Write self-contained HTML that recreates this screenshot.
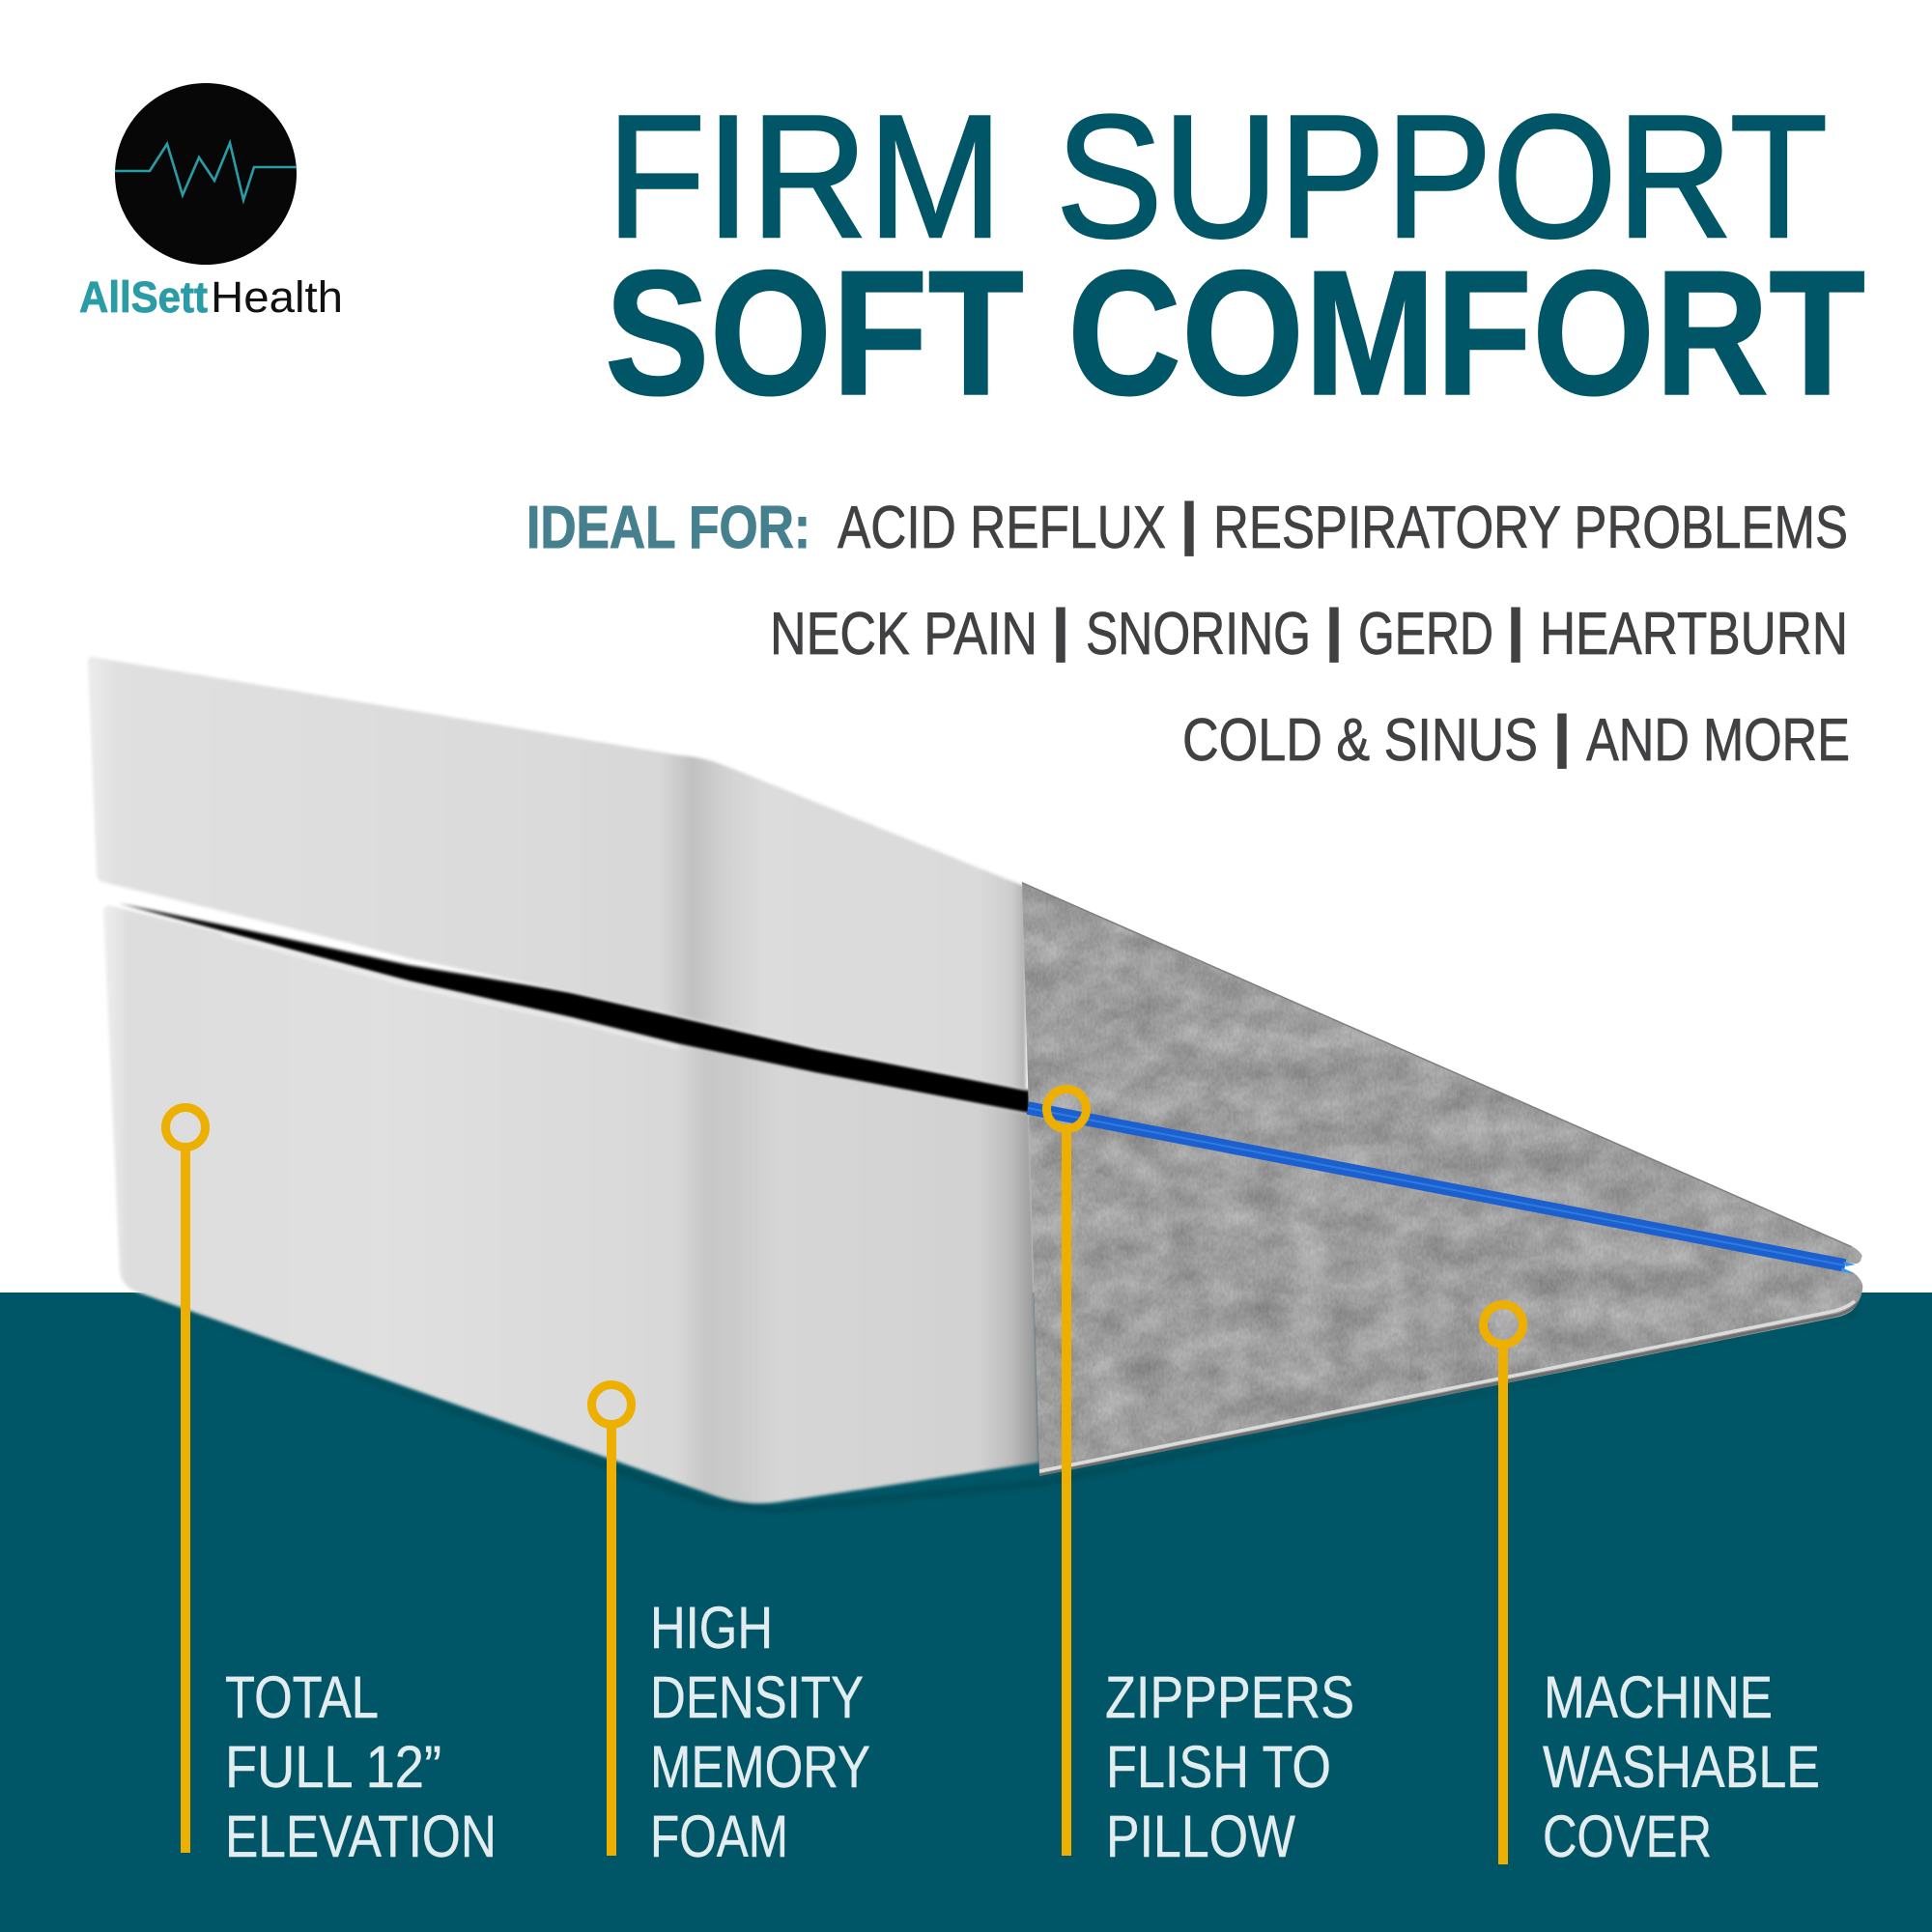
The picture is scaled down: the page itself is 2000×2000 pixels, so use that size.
<!DOCTYPE html>
<html><head><meta charset="utf-8"><style>html,body{margin:0;padding:0;background:#fff}svg{display:block}text{font-family:"Liberation Sans",sans-serif}</style></head>
<body>
<svg xmlns="http://www.w3.org/2000/svg" width="2000" height="2000" viewBox="0 0 2000 2000">
<defs>
<linearGradient id="fu" gradientUnits="userSpaceOnUse" x1="91" y1="0" x2="1062" y2="0">
<stop offset="0" stop-color="#ececec"/><stop offset=".03" stop-color="#e0e0e0"/><stop offset=".3" stop-color="#dddddd"/><stop offset=".61" stop-color="#d8d8d8"/><stop offset=".645" stop-color="#c0c0c0"/><stop offset=".675" stop-color="#d0d0d0"/><stop offset=".72" stop-color="#dcdcdc"/><stop offset=".95" stop-color="#dadada"/><stop offset=".985" stop-color="#cdcdcd"/><stop offset="1" stop-color="#b0b0b0"/>
</linearGradient>
<linearGradient id="fl" gradientUnits="userSpaceOnUse" x1="105" y1="0" x2="1080" y2="0">
<stop offset="0" stop-color="#f0f0f0"/><stop offset=".03" stop-color="#dddddd"/><stop offset=".3" stop-color="#e0e0e0"/><stop offset=".61" stop-color="#d8d8d8"/><stop offset=".64" stop-color="#c8c8c8"/><stop offset=".67" stop-color="#cacaca"/><stop offset=".72" stop-color="#d6d6d6"/><stop offset=".93" stop-color="#d2d2d2"/><stop offset=".965" stop-color="#bdbdbd"/><stop offset="1" stop-color="#8d8d8d"/>
</linearGradient>
<filter id="tex" x="0" y="0" width="100%" height="100%" color-interpolation-filters="sRGB">
<feTurbulence type="fractalNoise" baseFrequency="0.024 0.032" numOctaves="6" seed="11" result="a"/>
<feColorMatrix in="a" type="matrix" values="0.24 0 0 0 0.5  0.24 0 0 0 0.5  0.24 0 0 0 0.5  0 0 0 0 1" result="c1"/>
<feTurbulence type="fractalNoise" baseFrequency="0.35 0.2" numOctaves="2" seed="4" result="b"/>
<feColorMatrix in="b" type="matrix" values="1 0 0 0 0  1 0 0 0 0  1 0 0 0 0  0 0 0 0 1" result="c2"/>
<feComposite in="c1" in2="c2" operator="arithmetic" k1="0" k2="1" k3=".1" k4="-.05"/>
</filter>
<filter id="b1"><feGaussianBlur stdDeviation="1.5"/></filter>
<filter id="b3"><feGaussianBlur stdDeviation="3"/></filter>
<clipPath id="wc"><path d="M1058 913L1917 1290Q1930 1298 1927 1302Q1926 1308 1921 1308L1910 1307L1908 1313L1918 1317Q1930 1326 1928 1335Q1926 1348 1917 1357Q1910 1362 1900 1364L1076 1528Z"/></clipPath>
</defs>
<rect width="2000" height="2000" fill="#fff"/>
<rect y="1338" width="2000" height="662" fill="#005666"/>

<!-- logo -->
<circle cx="213" cy="180" r="94" fill="#070707"/>
<polyline points="119,177 155,177 173,149 189,202 206,163 222,187 238,148 252,207 263,173 307,173" fill="none" stroke="#2a9ca6" stroke-width="2.6"/>
<text x="82" y="323" font-size="45" font-weight="bold" fill="#2a9ca6" stroke="#2a9ca6" stroke-width=".8" textLength="133" lengthAdjust="spacingAndGlyphs">AllSett</text>
<text x="218" y="323" font-size="45" fill="#111" textLength="137" lengthAdjust="spacingAndGlyphs">Health</text>

<!-- headings -->
<g font-size="181" fill="#005666" stroke="#005666" stroke-width="2.5">
<text x="628" y="245" textLength="410" lengthAdjust="spacingAndGlyphs">FIRM</text>
<text x="1093" y="245" textLength="799" lengthAdjust="spacingAndGlyphs">SUPPORT</text>
</g>
<g font-size="184" font-weight="bold" fill="#005666" stroke="#005666" stroke-width="1.5">
<text x="626" y="408" textLength="434" lengthAdjust="spacingAndGlyphs">SOFT</text>
<text x="1105" y="408" textLength="826" lengthAdjust="spacingAndGlyphs">COMFORT</text>
</g>

<text x="545" y="567" font-size="62" font-weight="bold" fill="#46808f" stroke="#46808f" stroke-width="1" textLength="294" lengthAdjust="spacingAndGlyphs">IDEAL FOR:</text>
<g font-size="62" fill="#414042" stroke="#414042" stroke-width=".7">
<text x="867" y="567" textLength="340" lengthAdjust="spacingAndGlyphs">ACID REFLUX</text>
<text x="1256" y="567" textLength="657" lengthAdjust="spacingAndGlyphs">RESPIRATORY PROBLEMS</text>
<text x="797" y="677" textLength="277" lengthAdjust="spacingAndGlyphs">NECK PAIN</text>
<text x="1124" y="677" textLength="233" lengthAdjust="spacingAndGlyphs">SNORING</text>
<text x="1406" y="677" textLength="140" lengthAdjust="spacingAndGlyphs">GERD</text>
<text x="1594" y="677" textLength="319" lengthAdjust="spacingAndGlyphs">HEARTBURN</text>
<text x="1224" y="787" textLength="368" lengthAdjust="spacingAndGlyphs">COLD &amp; SINUS</text>
<text x="1642" y="787" textLength="273" lengthAdjust="spacingAndGlyphs">AND MORE</text>
</g>
<g font-size="58" font-weight="bold" fill="#414042" stroke="#414042" stroke-width="2" text-anchor="middle">
<text x="1231" y="562">|</text>
<text x="1098" y="672">|</text><text x="1381" y="672">|</text><text x="1569" y="672">|</text>
<text x="1617" y="782">|</text>
</g>

<!-- shadow under foam -->
<path d="M143 1342L736 1552L806 1560L1076 1532L1900 1368L1925 1355L1925 1362L1080 1538L800 1566L730 1558Z" fill="#003a46" opacity=".45" filter="url(#b3)"/>

<!-- black gap -->
<path d="M123 935L257 963L423 999L590 1027L703 1053L846 1086L1066 1129L1066 1153L846 1112L703 1082L590 1054L423 1016L223 962Z" fill="#000" filter="url(#b1)"/>

<!-- upper foam -->
<path d="M95 680Q91 680 91 686L100 905Q100 911 106 913L290 958L423 992L590 1027L703 1052L846 1085L1062 1128L1062 918L749 792Q725 783 704 782Z" fill="url(#fu)" filter="url(#b1)"/>
<!-- lower foam -->
<path d="M107 944Q107 936 116 938L223 964L423 1016L590 1053L703 1081L846 1111L1066 1153L1076 1514L806 1555Q770 1560 736 1547L143 1338Q126 1332 124 1317Z" fill="url(#fl)" filter="url(#b1)"/>
<path d="M230 968L423 1020L590 1057L703 1085" stroke="#fff" stroke-width="2.5" fill="none" opacity=".6" filter="url(#b1)"/>

<!-- wedge cover -->
<g clip-path="url(#wc)">
<rect x="1040" y="900" width="900" height="640" filter="url(#tex)"/>
<path d="M1058 913L1917 1290" stroke="#808080" stroke-width="3" fill="none"/>
<path d="M1076 1527L1898 1362Q1915 1359 1926 1346" stroke="#6e6e6e" stroke-width="3" fill="none"/>
<path d="M1076 1523L1895 1358Q1910 1355 1920 1347" stroke="#dcdcdc" stroke-width="3.5" fill="none"/>
</g>
<path d="M1064 1147L1910 1310" stroke="#1c5fcf" stroke-width="13.5" fill="none"/>
<path d="M1064 1147L1910 1310" stroke="#2f7ce0" stroke-width="2" fill="none"/>
<path d="M1908 1306L1921 1309L1911 1311Z" fill="#3399ee"/>
<path d="M1907 1312L1919 1319L1906 1316Z" fill="#3399ee"/>

<!-- callouts -->
<g fill="none" stroke="#eeb000">
<circle cx="192" cy="1167" r="20.5" stroke-width="9"/>
<circle cx="633" cy="1454" r="20.5" stroke-width="9"/>
<circle cx="1104" cy="1148" r="20.5" stroke-width="9"/>
<circle cx="1556" cy="1371" r="20.5" stroke-width="9"/>
<path d="M192 1188V1918M633 1475V1921M1104 1169V1921M1556 1392V1930" stroke-width="10"/>
</g>

<g font-size="61" fill="#e3ecee" stroke="#e3ecee" stroke-width=".4">
<text x="233" y="1778" textLength="159" lengthAdjust="spacingAndGlyphs">TOTAL</text>
<text x="233" y="1850" textLength="224" lengthAdjust="spacingAndGlyphs">FULL 12”</text>
<text x="233" y="1922" textLength="281" lengthAdjust="spacingAndGlyphs">ELEVATION</text>
<text x="673" y="1706" textLength="127" lengthAdjust="spacingAndGlyphs">HIGH</text>
<text x="673" y="1778" textLength="221" lengthAdjust="spacingAndGlyphs">DENSITY</text>
<text x="673" y="1850" textLength="228" lengthAdjust="spacingAndGlyphs">MEMORY</text>
<text x="673" y="1922" textLength="143" lengthAdjust="spacingAndGlyphs">FOAM</text>
<text x="1144" y="1778" textLength="258" lengthAdjust="spacingAndGlyphs">ZIPPPERS</text>
<text x="1145" y="1850" textLength="233" lengthAdjust="spacingAndGlyphs">FLISH TO</text>
<text x="1145" y="1922" textLength="196" lengthAdjust="spacingAndGlyphs">PILLOW</text>
<text x="1598" y="1778" textLength="237" lengthAdjust="spacingAndGlyphs">MACHINE</text>
<text x="1597" y="1850" textLength="287" lengthAdjust="spacingAndGlyphs">WASHABLE</text>
<text x="1597" y="1922" textLength="175" lengthAdjust="spacingAndGlyphs">COVER</text>
</g>
</svg>
</body></html>
